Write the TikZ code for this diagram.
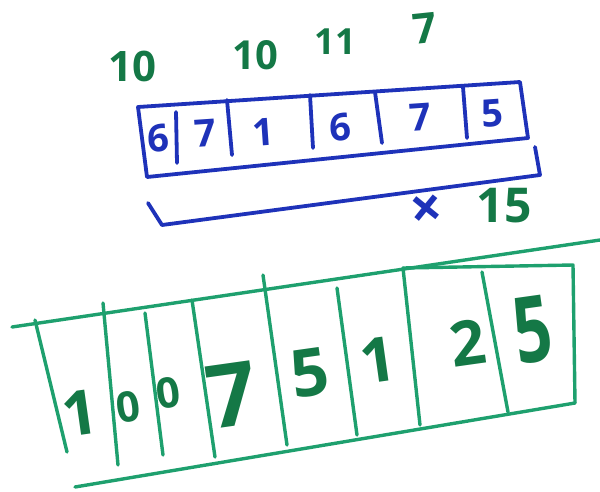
\documentclass[tikz,border=0pt]{standalone}
\usepackage{fontspec}
\setmainfont{Open Sans}
\definecolor{inkblue}{RGB}{30,50,185}
\definecolor{inkgreen}{RGB}{30,160,110}
\definecolor{inkdgreen}{RGB}{20,120,70}
\tikzset{
  blueline/.style={draw=inkblue, line width=3.8pt, line cap=round, line join=round},
  greenline/.style={draw=inkgreen, line width=3.4pt, line cap=round, line join=round},
  bluedigit/.style={text=inkblue, font=\fontsize{38}{38}\selectfont\bfseries, inner sep=0pt, rotate=4},
  greendigit/.style={text=inkdgreen, inner sep=0pt, rotate=8},
  carrydigit/.style={text=inkdgreen, inner sep=0pt},
}
\begin{document}
\begin{tikzpicture}[x=1pt,y=-1pt]
\useasboundingbox (0,0) rectangle (600,491);
% ---- top (blue) number box
\draw[blueline] (138,107) -- (520,82) -- (528,138) -- (147,177) -- cycle;
\draw[blueline] (176,112) -- (177,163);
\draw[blueline] (227,100) -- (232,155);
\draw[blueline] (310,95) -- (313,148);
\draw[blueline] (375,92) -- (382,143);
\draw[blueline] (463,87) -- (467,138);
\node[bluedigit] (t1) at (158,138) {6};
\node[bluedigit] (t2) at (205,133) {7};
\node[bluedigit] (t3) at (263,132) {1};
\node[bluedigit] (t4) at (340,127) {6};
\node[bluedigit] (t5) at (420,117) {7};
\node[bluedigit] (t6) at (492,113) {5};
% ---- carries
\node[carrydigit, font=\fontsize{42}{42}\selectfont\bfseries] (c1) at (132,66) {10};
\node[carrydigit, font=\fontsize{40}{40}\selectfont\bfseries] (c2) at (255,55) {10};
\node[carrydigit, font=\fontsize{36}{36}\selectfont\bfseries] (c3) at (335,42) {11};
\node[carrydigit, font=\fontsize{42}{42}\selectfont\bfseries, rotate=6] (c4) at (425,28) {7};
% ---- bracket and multiplier
\draw[blueline] (148,203) -- (162,225) -- (540,175) -- (535,147);
\node[text=inkblue, inner sep=0pt, font=\fontsize{56}{56}\selectfont\bfseries, rotate=6] (times) at (427,212) {×};
\node[carrydigit, font=\fontsize{48}{48}\selectfont\bfseries] (mult) at (504,206) {15};
% ---- bottom (green) result box
\draw[greenline] (12,327) -- (600,240);
\draw[greenline] (75,487) -- (575,403);
\draw[greenline] (35,320) -- (67,452);
\draw[greenline] (103,303) -- (118,465);
\draw[greenline] (145,313) -- (163,455);
\draw[greenline] (192,300) -- (215,457);
\draw[greenline] (263,275) -- (287,445);
\draw[greenline] (337,288) -- (357,435);
\draw[greenline] (403,268) -- (420,425);
\draw[greenline] (482,272) -- (508,412);
\draw[greenline] (403,268) -- (573,265) -- (575,403);
\node[greendigit, font=\fontsize{62}{62}\selectfont\bfseries] (r1) at (80,413) {1};
\node[greendigit, font=\fontsize{42}{42}\selectfont\bfseries] (r2) at (128,407) {0};
\node[greendigit, font=\fontsize{42}{42}\selectfont\bfseries] (r3) at (168,393) {0};
\node[greendigit, font=\fontsize{88}{88}\selectfont\bfseries] (r4) at (232,395) {7};
\node[greendigit, font=\fontsize{66}{66}\selectfont\bfseries] (r5) at (310,373) {5};
\node[greendigit, font=\fontsize{62}{62}\selectfont\bfseries] (r6) at (378,360) {1};
\node[greendigit, font=\fontsize{62}{62}\selectfont\bfseries] (r7) at (468,343) {2};
\node[greendigit, font=\fontsize{92}{92}\selectfont\bfseries, xscale=0.72] (r8) at (533,330) {5};
\end{tikzpicture}
\end{document}
